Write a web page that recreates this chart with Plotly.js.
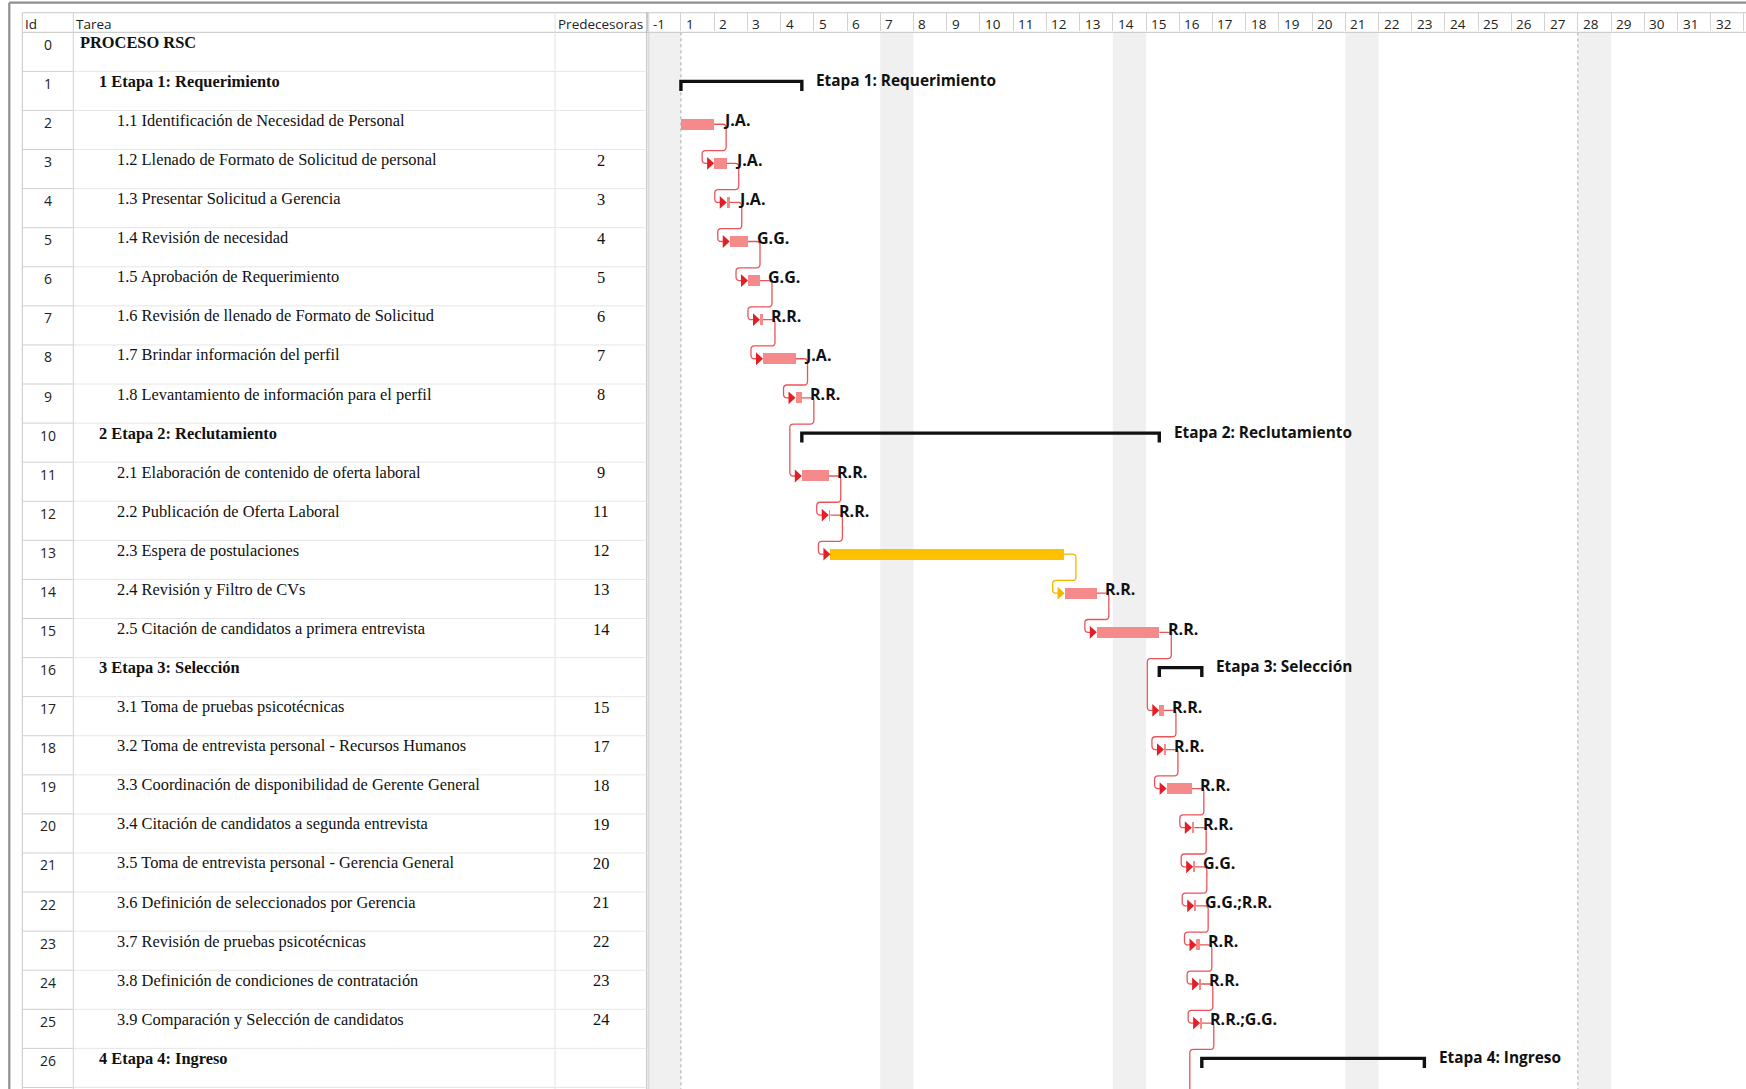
<!DOCTYPE html>
<html><head><meta charset="utf-8">
<script src="https://cdn.plot.ly/plotly-3.0.1.min.js"></script>
<style>html,body{margin:0;padding:0;background:#fff;overflow:hidden}#chart{width:1746px;height:1089px}</style>
</head><body><div id="chart"></div>
<script>
// ---------------- DATA ----------------
const taskIds = [0,1,2,3,4,5,6,7,8,9,10,11,12,13,14,15,16,17,18,19,20,21,22,23,24,25,26];
const taskNames = [
  "PROCESO RSC",
  "1 Etapa 1: Requerimiento",
  "1.1 Identificación de Necesidad de Personal",
  "1.2 Llenado de Formato de Solicitud de personal",
  "1.3 Presentar Solicitud a Gerencia",
  "1.4 Revisión de necesidad",
  "1.5 Aprobación de Requerimiento",
  "1.6 Revisión de llenado de Formato de Solicitud",
  "1.7 Brindar información del perfil",
  "1.8 Levantamiento de información para el perfil",
  "2 Etapa 2: Reclutamiento",
  "2.1 Elaboración de contenido de oferta laboral",
  "2.2 Publicación de Oferta Laboral",
  "2.3 Espera de postulaciones",
  "2.4 Revisión y Filtro de CVs",
  "2.5 Citación de candidatos a primera entrevista",
  "3 Etapa 3: Selección",
  "3.1 Toma de pruebas psicotécnicas",
  "3.2 Toma de entrevista personal - Recursos Humanos",
  "3.3 Coordinación de disponibilidad de Gerente General",
  "3.4 Citación de candidatos a segunda entrevista",
  "3.5 Toma de entrevista personal - Gerencia General",
  "3.6 Definición de seleccionados por Gerencia",
  "3.7 Revisión de pruebas psicotécnicas",
  "3.8 Definición de condiciones de contratación",
  "3.9 Comparación y Selección de candidatos",
  "4 Etapa 4: Ingreso"
];
const outlineLevel = [0,1,2,2,2,2,2,2,2,2,1,2,2,2,2,2,1,2,2,2,2,2,2,2,2,2,1];
const predecessors = ["","","","2","3","4","5","6","7","8","","9","11","12","13","14","","15","17","18","19","20","21","22","23","24",""];
const summaryLabels = ["","Etapa 1: Requerimiento","","","","","","","","","Etapa 2: Reclutamiento","","","","","","Etapa 3: Selección","","","","","","","","","","Etapa 4: Ingreso"];
const resourceNames = ["","","J.A.","J.A.","J.A.","G.G.","G.G.","R.R.","J.A.","R.R.","","R.R.","R.R.","","R.R.","R.R.","","R.R.","R.R.","R.R.","R.R.","G.G.","G.G.;R.R.","R.R.","R.R.","R.R.;G.G.",""];
// start / finish in timeline columns (column "-1" = 0..1, column "n" = n..n+1)
const taskStart  = [null,1.00,1.00,2.00,2.38,2.47,3.02,3.38,3.47,4.45,4.64,4.64,5.45,5.50,12.55,13.52,15.40,15.40,15.54,15.62,16.38,16.42,16.45,16.52,16.60,16.63,16.68];
const taskFinish = [null,4.64,2.00,2.38,2.47,3.02,3.38,3.47,4.45,4.64,15.40,5.45,5.50,12.53,13.52,15.40,16.68,15.54,15.60,16.38,16.45,16.47,16.51,16.62,16.65,16.68,23.38];
const barKind = ["","summary","task","task","task","task","task","task","task","task","summary","task","task","slack","task","task","summary","task","task","task","task","task","task","task","task","task","summary"];
const dayLabels = ["-1","1","2","3","4","5","6","7","8","9","10","11","12","13","14","15","16","17","18","19","20","21","22","23","24","25","26","27","28","29","30","31","32"];
const nonWorkingDays = ["-1","7","14","21","28"];
const markerDays = ["1","28"];
const continuesFrom = 25; // link leaving row 25 toward the next (off-page) task

// ---------------- GEOMETRY / STYLE ----------------
const W = 1746, H = 1089;
const HEAD_TOP = 12.7, HEAD_BOT = 32.3, ROW_H = 39.08, X0 = 647.7, DAY = 33.22;
const yMax = (H - HEAD_BOT) / ROW_H;
const dX = px => px / DAY, dY = px => px / ROW_H;
const pX = px => px / W, pY = px => 1 - px / H;
const SANS = "Open Sans, Noto Sans, sans-serif";
const SERIF = "Liberation Serif, Times New Roman, serif";
const COL = {task: "#f58a8a", slack: "#ffc000"};
const LINKCOL = {task: "#e9545a", slack: "#f2b600"};
const ARROWCOL = {task: "#e31e24", slack: "#f2b600"};
const BAR_OFF = 13.8, BAR_H = 11;

const shapes = [], annotations = [];
const line = (x0,y0,x1,y1,color,width,extra) => Object.assign({type:"line",x0,y0,x1,y1,line:{color,width}},extra||{});

// frame
shapes.push(line(pX(9.3),pY(2.7),pX(9.3),0,"#8e8e8e",2.2,{xref:"paper",yref:"paper"}));
shapes.push(line(pX(9.3),pY(2.7),1,pY(2.7),"#8e8e8e",2.2,{xref:"paper",yref:"paper"}));
// header lines
shapes.push(line(pX(22.3),pY(HEAD_TOP),1,pY(HEAD_TOP),"#c8c8c8",1,{xref:"paper",yref:"paper"}));
shapes.push(line(pX(22.3),pY(HEAD_BOT),1,pY(HEAD_BOT),"#c4c4c4",1,{xref:"paper",yref:"paper"}));
// table verticals
[[22.3,"#c8c8c8"],[73.3,"#d2d2d2"],[555,"#e2e2e2"],[646.8,"#b4b4b4"],[648.8,"#d2d2d2"]].forEach(([x,c]) =>
  shapes.push(line(pX(x),pY(HEAD_TOP),pX(x),0,c,1,{xref:"paper",yref:"paper"})));
// row lines
for (let i = 1; i <= taskIds.length; i++) {
  shapes.push(line(pX(22.3),i,pX(73.3),i,"#cfcfcf",1,{xref:"paper",yref:"y"}));
  shapes.push(line(pX(73.3),i,pX(646.8),i,"#e6e6e6",1,{xref:"paper",yref:"y"}));
}
// non-working columns
nonWorkingDays.forEach(d => {
  const u = dayLabels.indexOf(d);
  shapes.push({type:"rect",xref:"x",yref:"y",x0:u,x1:u+1,y0:0,y1:yMax+1,fillcolor:"#f0f0f0",line:{width:0},layer:"below"});
});
markerDays.forEach(d => {
  const u = dayLabels.indexOf(d);
  shapes.push(line(u,0,u,yMax+1,"#aaaaaa",1,{xref:"x",yref:"y",line:{color:"#aaaaaa",width:1,dash:"dot"},layer:"below"}));
});

// header text
[["Id",22.3],["Tarea",73.3],["Predecesoras",555]].forEach(([t,x]) =>
  annotations.push({text:t,xref:"paper",yref:"paper",x:pX(x+1),y:pY(23.8),xanchor:"left",yanchor:"middle",showarrow:false,font:{family:SANS,size:13.5,color:"#222"}}));
dayLabels.forEach((d,u) =>
  annotations.push({text:d,xref:"x",yref:"paper",x:u,xshift:3,y:pY(23.8),xanchor:"left",yanchor:"middle",showarrow:false,font:{family:SANS,size:13.5,color:"#222"}}));

// table rows
taskIds.forEach((id,i) => {
  annotations.push({text:String(id),xref:"paper",yref:"y",x:pX(47.8),y:i+dY(12),xanchor:"center",yanchor:"middle",showarrow:false,font:{family:SANS,size:14,color:"#222"}});
  const nm = outlineLevel[i] <= 1 ? "<b>"+taskNames[i]+"</b>" : taskNames[i];
  annotations.push({text:nm,xref:"paper",yref:"y",x:pX(78.3+18.4*outlineLevel[i]),y:i+dY(10),xanchor:"left",yanchor:"middle",showarrow:false,font:{family:SERIF,size:16.4,color:"#111"}});
  if (predecessors[i]) annotations.push({text:predecessors[i],xref:"paper",yref:"y",x:pX(601),y:i+dY(10.5),xanchor:"center",yanchor:"middle",showarrow:false,font:{family:SERIF,size:16.4,color:"#111"}});
});

// bars
const barIdx = taskIds.filter(i => barKind[i] === "task" || barKind[i] === "slack");
const barTrace = {
  type:"bar", orientation:"h", hoverinfo:"skip",
  y: barIdx.map(i => i + dY(BAR_OFF)),
  base: barIdx.map(i => taskStart[i]),
  x: barIdx.map(i => taskFinish[i] - taskStart[i]),
  width: barIdx.map(() => dY(BAR_H)),
  marker:{color: barIdx.map(i => COL[barKind[i]]), line:{width:0}}
};
// summary brackets
const sx = [], sy = [];
taskIds.filter(i => barKind[i] === "summary").forEach(i => {
  const yl = i + dY(10), yt = i + dY(19.5);
  sx.push(taskStart[i], taskStart[i], taskFinish[i], taskFinish[i], null);
  sy.push(yt, yl, yl, yt, null);
  annotations.push({text:"<b>"+summaryLabels[i]+"</b>",xref:"x",yref:"y",x:taskFinish[i],xshift:12.5,y:i+dY(9),xanchor:"left",yanchor:"middle",showarrow:false,font:{family:SANS,size:15.4,color:"#111"}});
});
const summaryTrace = {type:"scatter",mode:"lines",x:sx,y:sy,hoverinfo:"skip",line:{color:"#111",width:3.4},connectgaps:false};

// resource labels
barIdx.forEach(i => {
  if (resourceNames[i]) annotations.push({text:"<b>"+resourceNames[i]+"</b>",xref:"x",yref:"y",x:taskFinish[i],xshift:6.5,y:i+dY(10),xanchor:"left",yanchor:"middle",showarrow:false,font:{family:SANS,size:16,color:"#111"}});
});

// links
const rx = dX(3.5), ry = dY(3.5);
function linkPath(p, s, sStart, sRow, endY) {
  const pe = taskFinish[p], pc = p + dY(BAR_OFF);
  const a = pe + dX(12), b = sStart - dX(12);
  const jy = p + 1 + dY(1);
  const dir = b < a ? -1 : 1;
  let d = `M${pe},${pc} L${a-rx},${pc} Q${a},${pc} ${a},${pc+ry} L${a},${jy-ry} Q${a},${jy} ${a+dir*rx},${jy} L${b-dir*rx},${jy} Q${b},${jy} ${b},${jy+ry}`;
  if (endY !== undefined) return d + ` L${b},${endY}`;
  const sc = sRow + dY(BAR_OFF);
  return d + ` L${b},${sc-ry} Q${b},${sc} ${b+rx},${sc} L${sStart-dX(6.5)},${sc}`;
}
taskIds.forEach(s => {
  if (!predecessors[s]) return;
  const p = parseInt(predecessors[s], 10);
  const k = barKind[p];
  shapes.push({type:"path",xref:"x",yref:"y",path:linkPath(p, s, taskStart[s], s),line:{color:LINKCOL[k],width:1.3}});
  const ss = taskStart[s], sc = s + dY(BAR_OFF);
  shapes.push({type:"path",xref:"x",yref:"y",path:`M${ss-dX(7)},${sc-dY(6.4)} L${ss},${sc} L${ss-dX(7)},${sc+dY(6.4)} Z`,fillcolor:ARROWCOL[k],line:{width:0}});
});
shapes.push({type:"path",xref:"x",yref:"y",path:linkPath(continuesFrom, null, taskFinish[continuesFrom], null, yMax+1),line:{color:LINKCOL.task,width:1.3}});

const layout = {
  width:W, height:H, margin:{l:0,r:0,t:0,b:0,pad:0},
  paper_bgcolor:"#fff", plot_bgcolor:"rgba(0,0,0,0)", showlegend:false,
  xaxis:{domain:[X0/W,1], range:[0,(W-X0)/DAY], side:"top", showgrid:false, zeroline:false, showline:false,
         ticks:"outside", tickmode:"array", tickvals:dayLabels.map((d,u)=>u).concat([dayLabels.length]),
         ticklen:HEAD_BOT-HEAD_TOP, tickwidth:1, tickcolor:"#d2d2d2", showticklabels:false, fixedrange:true},
  yaxis:{domain:[0,1-HEAD_BOT/H], range:[yMax,0], showgrid:false, zeroline:false, showline:false, showticklabels:false, ticks:"", fixedrange:true},
  shapes, annotations, bargap:0
};
Plotly.newPlot("chart",[barTrace, summaryTrace],layout,{staticPlot:true,displayModeBar:false});
</script></body></html>
